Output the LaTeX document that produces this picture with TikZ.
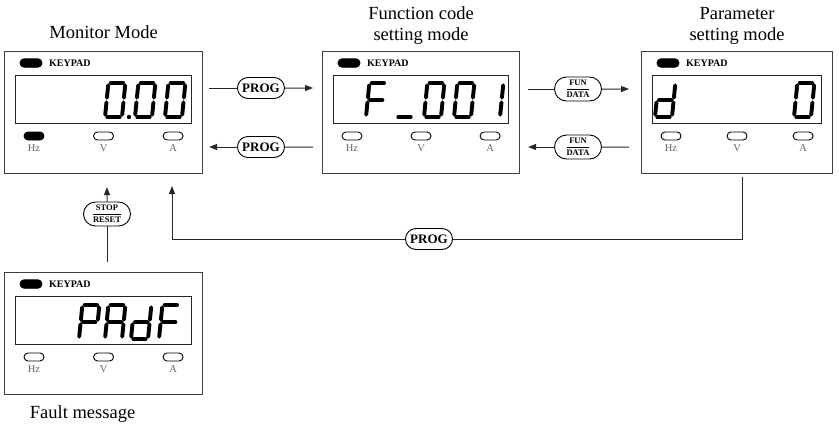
\documentclass[tikz,border=0pt]{standalone}
\usepackage{fontspec}
\setmainfont{Liberation Serif}
\usetikzlibrary{arrows.meta,positioning,shapes.misc}

% seven segment paths, digit 17 x 34, origin at bottom left
\def\segpatha{(2.3,34)--(14.7,34)}
\def\segpathb{(17,31.7)--(17,19.3)}
\def\segpathc{(17,14.7)--(17,2.3)}
\def\segpathd{(2.3,0)--(14.7,0)}
\def\segpathe{(0,14.7)--(0,2.3)}
\def\segpathf{(0,31.7)--(0,19.3)}
\def\segpathg{(2.3,17)--(14.7,17)}

\newcommand{\segdigit}[3]{% x, y of bottom left, lit segments
  \begin{scope}[shift={(#1,#2)},xslant=0.1,y=1pt]
    \foreach \s in {#3}{%
      \expandafter\let\expandafter\segnow\csname segpath\s\endcsname
      \draw[seg] \segnow;}
  \end{scope}}

\newcommand{\keypad}[5][white]{% Hz fill, name, left, top, width
  \node[panel,minimum width=#5pt,anchor=north west] (#2) at (#3,#4) {};
  \node[led,fill=black,minimum width=22pt,minimum height=8.5pt] at ([xshift=27pt,yshift=-12pt]#2.north west) {};
  \node[keytxt,anchor=west] at ([xshift=45pt,yshift=-12pt]#2.north west) {KEYPAD};
  \node[screen,minimum width={#5pt-22pt},anchor=north] at ([yshift=-24pt]#2.north) {};
  \node[led,fill=#1] (#2hz) at ([xshift=30pt,yshift=-85pt]#2.north west) {};
  \node[led] (#2v) at ([yshift=-85pt]#2.north) {};
  \node[led] (#2a) at ([xshift=-30pt,yshift=-85pt]#2.north east) {};
  \node[lamptxt] at ([yshift=-12pt]#2hz) {Hz};
  \node[lamptxt] at ([yshift=-12pt]#2v) {V};
  \node[lamptxt] at ([yshift=-12pt]#2a) {A};}

\begin{document}
\begin{tikzpicture}[x=1pt,y=-1pt,>={Triangle[length=8pt,width=6pt]},
  panel/.style={draw=black!75,line width=1.1pt,minimum height=122pt,inner sep=0pt},
  screen/.style={draw=black!85,line width=0.8pt,minimum height=48pt,inner sep=0pt},
  led/.style={rounded rectangle,draw,line width=0.9pt,minimum width=20pt,minimum height=8pt,inner sep=0pt},
  keytxt/.style={font=\fontsize{10}{12}\selectfont\bfseries,inner sep=0pt},
  lamptxt/.style={font=\fontsize{10.5}{12}\selectfont,text=black!60,inner sep=0pt},
  title/.style={font=\fontsize{18.5}{21}\selectfont,align=center,inner sep=0pt},
  key/.style={rounded rectangle,draw,line width=0.9pt,font=\fontsize{13}{14}\selectfont\bfseries,minimum width=49pt,minimum height=21pt,inner sep=1pt},
  fkey/.style={key,font=\fontsize{8.5}{9}\selectfont\bfseries,minimum height=24pt},
  seg/.style={line width=3.9pt,line cap=round},
  link/.style={draw=black!85,line width=1pt}]
  \useasboundingbox (0,0) rectangle (839,426);
  % the four keypads
  \keypad[black]{mon}{4}{51}{198}
  \keypad{fun}{322}{51}{197}
  \keypad{par}{641}{51}{191}
  \keypad{fault}{4}{272}{198}
  \node[title,above=12pt of mon]{Monitor Mode};
  \node[title,above=6pt of fun]{Function code\\setting mode};
  \node[title,above=6pt of par]{Parameter\\setting mode};
  \node[title,below=10pt of fault,xshift=-21pt]{Fault message};
  % display contents
  \segdigit{105}{117}{a,b,c,d,e,f}
  \fill (129,117) circle (2.2);
  \segdigit{135}{117}{a,b,c,d,e,f}
  \segdigit{165}{117}{a,b,c,d,e,f}
  \segdigit{366}{117}{a,e,f,g}
  \segdigit{396}{117}{d}
  \segdigit{424}{117}{a,b,c,d,e,f}
  \segdigit{454}{117}{a,b,c,d,e,f}
  \segdigit{483}{117}{b,c}
  \segdigit{655}{117}{b,c,d,e,g}
  \segdigit{794}{117}{a,b,c,d,e,f}
  \segdigit{79}{339}{a,b,e,f,g}
  \segdigit{105}{339}{a,b,c,e,f,g}
  \segdigit{131}{339}{b,c,d,e,g}
  \segdigit{159}{339}{a,e,f,g}
  % keys
  \node[key] (progR) at (261,88) {PROG};
  \node[key] (progL) at (261,147) {PROG};
  \node[fkey] (fdR) at (578,89) {$\displaystyle\frac{\mbox{FUN}}{\mbox{DATA}}$};
  \node[fkey] (fdL) at (578,147) {$\displaystyle\frac{\mbox{FUN}}{\mbox{DATA}}$};
  \node[fkey] (stop) at (107,214) {$\displaystyle\frac{\mbox{STOP}}{\mbox{RESET}}$};
  \node[key] (progB) at (429,239) {PROG};
  \coordinate (pdown) at (742,177);
  \coordinate (mup) at (172,186);
  % connectors
  \draw[link,shorten <=6pt] (mon.east |- progR) -- (progR);
  \draw[link,->,shorten >=9pt] (progR) -- (fun.west |- progR);
  \draw[link,shorten <=9pt] (fun.west |- progL) -- (progL);
  \draw[link,->,shorten >=6pt] (progL) -- (mon.east |- progL);
  \draw[link,shorten <=8pt] (fun.east |- fdR) -- (fdR);
  \draw[link,->,shorten >=12pt] (fdR) -- (par.west |- fdR);
  \draw[link,shorten <=12pt] (par.west |- fdL) -- (fdL);
  \draw[link,->,shorten >=8pt] (fdL) -- (fun.east |- fdL);
  \draw[link,shorten <=10pt] (fault.north -| stop) -- (stop);
  \draw[link,->,shorten >=13pt] (stop) -- (mon.south -| stop);
  \draw[link] (pdown) |- (progB);
  \draw[link,->] (progB) -| (mup);
\end{tikzpicture}
\end{document}
